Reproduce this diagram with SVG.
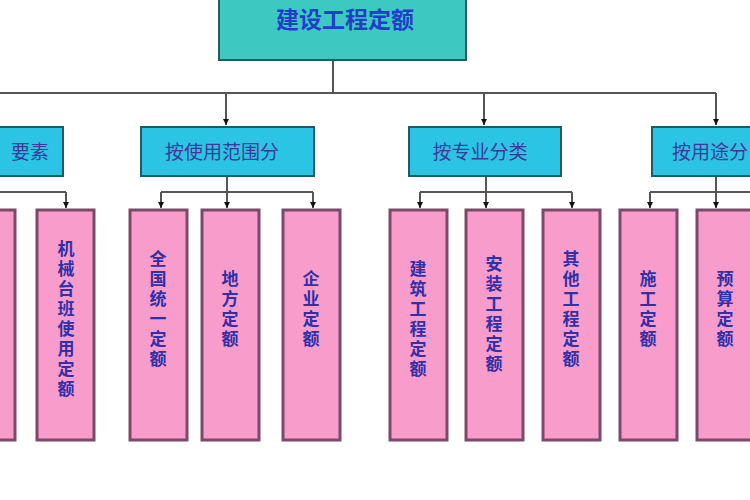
<svg xmlns="http://www.w3.org/2000/svg" width="750" height="500" viewBox="0 0 750 500">
<style>
.top{fill:#3ec8c2;stroke:#2a5a5a;stroke-width:2}
.cat{fill:#2cc4e4;stroke:#1f5a6a;stroke-width:2}
.leaf{fill:#f89ccb;stroke:#7a4a68;stroke-width:3}
.ct{font-family:"Noto Sans CJK SC",sans-serif;font-size:19px;fill:#3a3a9a;text-anchor:middle}
.lt{font-family:"Noto Sans CJK SC",sans-serif;font-size:17px;font-weight:bold;fill:#3030a8;writing-mode:vertical-rl;letter-spacing:3px}
.ln{stroke:#555;stroke-width:2;fill:none}
</style>
<defs><marker id="a" viewBox="0 0 10 10" refX="10" refY="5" markerWidth="6" markerHeight="6" orient="auto" markerUnits="userSpaceOnUse"><path d="M0,0L10,5L0,10z" fill="#111"/></marker></defs>
<rect width="750" height="500" fill="#fff"/>
<g id="connectors" class="ln">
<path d="M333,60V93M0,93H716"/>
<path d="M226,93V125" marker-end="url(#a)"/>
<path d="M484,93V125" marker-end="url(#a)"/>
<path d="M716,93V125" marker-end="url(#a)"/>
<path d="M0,192H66M227,176V192M161,192H313M486,176V192M420,192H572M716,176V192M650,192H750"/>
<path d="M66,192V208" marker-end="url(#a)"/>
<path d="M161,192V208" marker-end="url(#a)"/>
<path d="M227,192V208" marker-end="url(#a)"/>
<path d="M313,192V208" marker-end="url(#a)"/>
<path d="M420,192V208" marker-end="url(#a)"/>
<path d="M486,192V208" marker-end="url(#a)"/>
<path d="M572,192V208" marker-end="url(#a)"/>
<path d="M650,192V208" marker-end="url(#a)"/>
<path d="M716,192V208" marker-end="url(#a)"/>
</g>
<g id="root"><rect class="top" x="219" y="-5" width="247" height="65"/><text x="345" y="28" class="ct" style="font-size:23px;font-weight:bold;fill:#1f3fc8">建设工程定额</text></g>
<g id="c1"><rect class="cat" x="-10" y="127" width="73" height="49"/><text x="30" y="159" class="ct">要素</text></g>
<g id="c2"><rect class="cat" x="141" y="127" width="173" height="49"/><text x="222" y="159" class="ct">按使用范围分</text></g>
<g id="c3"><rect class="cat" x="409" y="127" width="152" height="49"/><text x="480" y="159" class="ct">按专业分类</text></g>
<g id="c4"><rect class="cat" x="652" y="127" width="110" height="49"/><text x="710" y="159" class="ct">按用途分</text></g>
<g id="l0"><rect class="leaf" x="-20" y="210" width="35" height="230"/></g>
<g id="l1"><rect class="leaf" x="37" y="210" width="57" height="230"/><text x="66" y="240" class="lt">机械台班使用定额</text></g>
<g id="l2"><rect class="leaf" x="130" y="210" width="57" height="230"/><text x="158" y="250" class="lt">全国统一定额</text></g>
<g id="l3"><rect class="leaf" x="202" y="210" width="57" height="230"/><text x="230" y="270" class="lt">地方定额</text></g>
<g id="l4"><rect class="leaf" x="283" y="210" width="57" height="230"/><text x="311" y="270" class="lt">企业定额</text></g>
<g id="l5"><rect class="leaf" x="390" y="210" width="57" height="230"/><text x="418" y="260" class="lt">建筑工程定额</text></g>
<g id="l6"><rect class="leaf" x="466" y="210" width="57" height="230"/><text x="494" y="255" class="lt">安装工程定额</text></g>
<g id="l7"><rect class="leaf" x="543" y="210" width="57" height="230"/><text x="571" y="250" class="lt">其他工程定额</text></g>
<g id="l8"><rect class="leaf" x="620" y="210" width="57" height="230"/><text x="648" y="270" class="lt">施工定额</text></g>
<g id="l9"><rect class="leaf" x="697" y="210" width="60" height="230"/><text x="725" y="270" class="lt">预算定额</text></g>
</svg>
